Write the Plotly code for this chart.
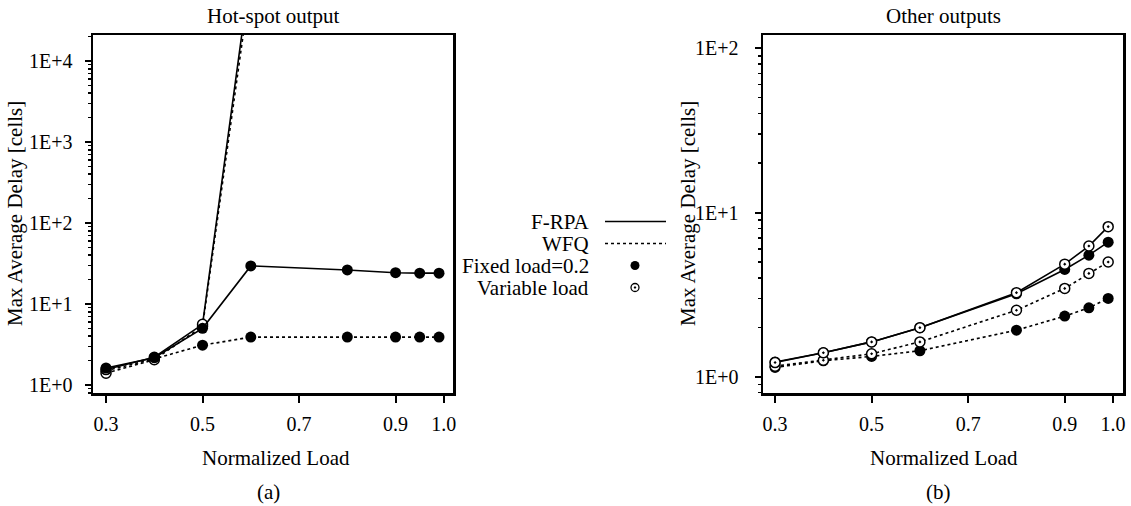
import plotly.graph_objects as go

W, H = 1131, 506

# ---------------- data ----------------
load = [0.3, 0.4, 0.5, 0.6, 0.8, 0.9, 0.95, 0.99]

# (a) Hot-spot output
hs_frpa_fixed = [1.62, 2.17, 5.0, 29.5, 26.3, 24.3, 24.0, 24.0]
hs_frpa_var = [1.55, 2.2, 5.6, 1.4e5, None, None, None, None]
hs_wfq_fixed = [1.5, 2.1, 3.1, 3.9, 3.9, 3.9, 3.9, 3.9]
hs_wfq_var = [1.4, 2.05, 5.3, 1.0e5, None, None, None, None]

# (b) Other outputs
ot_frpa_fixed = [1.23, 1.40, 1.63, 1.99, 3.2, 4.5, 5.5, 6.6]
ot_frpa_var = [1.22, 1.40, 1.63, 1.99, 3.25, 4.85, 6.25, 8.2]
ot_wfq_var = [1.16, 1.26, 1.38, 1.63, 2.54, 3.45, 4.26, 5.0]
ot_wfq_fixed = [1.14, 1.25, 1.33, 1.44, 1.92, 2.34, 2.63, 3.0]

x_ticks = [0.3, 0.5, 0.7, 0.9, 1.0]
x_ticktext = ["0.3", "0.5", "0.7", "0.9", "1.0"]
hs_yticks = [1, 10, 100, 1000, 10000]
hs_yticktext = ["1E+0", "1E+1", "1E+2", "1E+3", "1E+4"]
ot_yticks = [1, 10, 100]
ot_yticktext = ["1E+0", "1E+1", "1E+2"]

legend_labels = ["F-RPA", "WFQ", "Fixed load=0.2", "Variable load"]

FONT = "Liberation Serif, Times New Roman, serif"
FS = 21
TICK_FS = 20


def px(x):
    return x / W


def py(y):
    return 1 - y / H


def minor_vals(max_exp):
    vals = []
    for e in range(-1, max_exp + 1):
        for m in range(2, 10):
            vals.append(m * 10 ** e)
    return vals


fig = go.Figure()


def add_series(xa, ya, yvals, dash, filled):
    if filled:
        marker = dict(symbol="circle", size=11, color="black")
    else:
        marker = dict(symbol="circle-dot", size=10, color="white",
                      line=dict(color="black", width=1.5))
    fig.add_trace(go.Scatter(
        x=load, y=yvals, mode="lines+markers", xaxis=xa, yaxis=ya,
        line=dict(color="black", width=1.6, dash=dash),
        marker=marker, showlegend=False, connectgaps=False))


# panel (a)
add_series("x", "y", hs_wfq_fixed, "dot", True)
add_series("x", "y", hs_wfq_var, "dot", False)
add_series("x", "y", hs_frpa_var, "solid", False)
add_series("x", "y", hs_frpa_fixed, "solid", True)
# panel (b)
add_series("x2", "y2", ot_wfq_fixed, "dot", True)
add_series("x2", "y2", ot_wfq_var, "dot", False)
add_series("x2", "y2", ot_frpa_fixed, "solid", True)
add_series("x2", "y2", ot_frpa_var, "solid", False)

# legend samples on a pixel-space overlay axis (window pixel coordinates)
leg_y = [221.5, 243.5, 265.5, 287.5]
fig.add_trace(go.Scatter(x=[605, 666], y=[leg_y[0]] * 2, mode="lines",
                         line=dict(color="black", width=1.4),
                         xaxis="x3", yaxis="y3", showlegend=False))
fig.add_trace(go.Scatter(x=[605, 666], y=[leg_y[1]] * 2, mode="lines",
                         line=dict(color="black", width=1.4, dash="dot"),
                         xaxis="x3", yaxis="y3", showlegend=False))
fig.add_trace(go.Scatter(x=[635], y=[leg_y[2]], mode="markers",
                         marker=dict(symbol="circle", size=9, color="black"),
                         xaxis="x3", yaxis="y3", showlegend=False))
fig.add_trace(go.Scatter(x=[635], y=[leg_y[3]], mode="markers",
                         marker=dict(symbol="circle-dot", size=8, color="white",
                                     line=dict(color="black", width=1.3)),
                         xaxis="x3", yaxis="y3", showlegend=False))

annotations = []
for lab, yy in zip(legend_labels, leg_y):
    annotations.append(dict(x=591, y=yy, xref="x3", yref="y3", text=lab,
                            showarrow=False, xanchor="right", yanchor="middle",
                            font=dict(family=FONT, size=FS, color="black")))


def text(x, y, s, angle=0):
    annotations.append(dict(x=px(x), y=py(y), xref="paper", yref="paper",
                            text=s, showarrow=False, xanchor="center",
                            yanchor="middle", textangle=angle,
                            font=dict(family=FONT, size=FS, color="black")))


text(273, 16, "Hot-spot output")
text(943, 16, "Other outputs")
text(276, 458, "Normalized Load")
text(944, 458, "Normalized Load")
text(268, 492, "(a)")
text(938, 492, "(b)")
text(15, 214, "Max Average Delay [cells]", -90)
text(688, 214, "Max Average Delay [cells]", -90)

ydom = [py(393), py(35)]


def xaxis_cfg(x0, x1, rng, anchor):
    return dict(domain=[px(x0), px(x1)], range=rng, tickmode="array",
                tickvals=x_ticks, ticktext=x_ticktext, ticks="outside",
                ticklen=7, tickwidth=2, tickcolor="black", showline=True,
                linewidth=2.5, linecolor="black", mirror=True, showgrid=False,
                zeroline=False, anchor=anchor, ticklabelstandoff=4,
                tickfont=dict(family=FONT, size=TICK_FS, color="black"))


def yaxis_cfg(anchor, rng, tv, tt, max_exp, standoff):
    return dict(domain=ydom, type="log", range=rng, tickmode="array",
                tickvals=tv, ticktext=tt, ticks="outside", ticklen=6,
                tickwidth=2, tickcolor="black", showline=True, linewidth=2.5,
                linecolor="black", mirror=True, showgrid=False, zeroline=False,
                anchor=anchor, ticklabelstandoff=standoff,
                minor=dict(ticks="outside", ticklen=3, tickwidth=1.5,
                           tickcolor="black", tickmode="array",
                           tickvals=minor_vals(max_exp), showgrid=False),
                tickfont=dict(family=FONT, size=TICK_FS, color="black"))


fig.update_layout(
    width=W, height=H,
    margin=dict(l=0, r=0, t=0, b=0, autoexpand=False),
    paper_bgcolor="white", plot_bgcolor="rgba(0,0,0,0)",
    showlegend=False,
    xaxis=xaxis_cfg(93, 453, [0.273, 1.019], "y"),
    yaxis=yaxis_cfg("x", [-0.099, 4.32], hs_yticks, hs_yticktext, 4, 8),
    xaxis2=xaxis_cfg(763, 1123, [0.275, 1.0207], "y2"),
    yaxis2=yaxis_cfg("x2", [-0.099, 2.081], ot_yticks, ot_yticktext, 2, 12),
    xaxis3=dict(domain=[0, 1], range=[0, W], visible=False,
                anchor="y3", fixedrange=True),
    yaxis3=dict(domain=[0, 1], range=[H, 0], visible=False,
                anchor="x3", fixedrange=True),
    annotations=annotations,
)

fig.write_html(
    "out.html",
    config={"displayModeBar": False, "staticPlot": True},
    post_script="document.body.style.margin='0';"
                "document.body.style.overflow='hidden';",
)
